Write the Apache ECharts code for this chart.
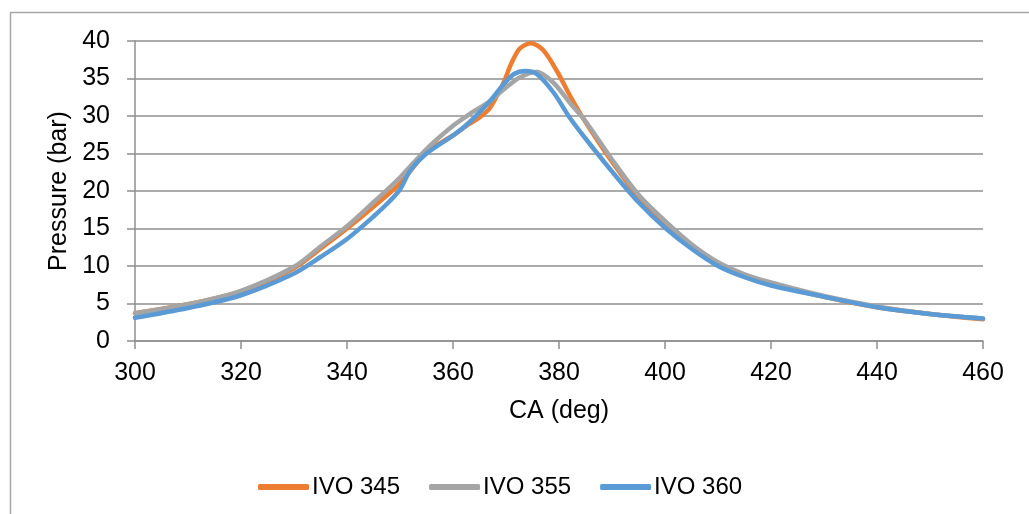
<!DOCTYPE html>
<html>
<head>
<meta charset="utf-8">
<script src="https://cdn.jsdelivr.net/npm/echarts@6/dist/echarts.min.js"></script>
<style>
  html, body { margin: 0; padding: 0; background: #fff; }
  #chart { width: 1029px; height: 514px; }
</style>
</head>
<body>
<div id="chart"></div>
<script>
// Crank angle (deg) and cylinder pressure (bar) for three intake valve opening timings
const ivo345Deg = [300, 310, 320, 330, 335, 340, 345, 350, 355, 360, 363, 365, 367, 369.5, 371, 372.6, 374.7, 377, 379.6, 382, 385, 390, 395, 400, 405, 410, 415, 420, 430, 440, 450, 460];
const ivo345Bar = [3.7, 4.9, 6.6, 9.7, 12.3, 15.0, 17.9, 21.0, 25.2, 27.4, 28.9, 29.8, 31.1, 34.4, 37.0, 39.0, 39.7, 38.8, 36.0, 32.8, 29.2, 23.9, 19.2, 15.5, 12.6, 10.2, 8.7, 7.6, 5.9, 4.5, 3.6, 2.9];

const ivo355Deg = [300, 310, 320, 330, 335, 340, 345, 350, 355, 360, 363, 367, 369.5, 372.5, 375.8, 379, 382, 385, 390, 395, 400, 405, 410, 415, 420, 430, 440, 450, 460];
const ivo355Bar = [3.7, 4.9, 6.7, 9.9, 12.6, 15.3, 18.5, 21.8, 25.6, 28.7, 30.2, 32.0, 33.5, 35.1, 35.9, 34.4, 31.8, 29.3, 24.2, 19.5, 16.0, 12.9, 10.5, 8.9, 7.8, 6.0, 4.6, 3.6, 3.0];

const ivo360Deg = [300, 310, 320, 330, 335, 340, 345, 348, 350, 352, 355, 360, 363, 367, 369.5, 371.5, 373.6, 375.8, 379, 382, 385, 390, 395, 400, 405, 410, 415, 420, 430, 440, 450, 460];
const ivo360Bar = [3.1, 4.4, 6.1, 9.0, 11.2, 13.6, 16.6, 18.6, 20.2, 22.8, 25.0, 27.4, 29.1, 32.0, 34.2, 35.6, 36.0, 35.6, 33.1, 29.8, 27.0, 22.6, 18.5, 15.1, 12.3, 10.0, 8.5, 7.4, 5.9, 4.5, 3.6, 3.0];

const seriesNames = ['IVO 345', 'IVO 355', 'IVO 360'];
const seriesColors = ['#ED7D31', '#A5A5A5', '#5B9BD5'];

const xTicks = { min: 300, max: 460, step: 20 };
const yTicks = { min: 0, max: 40, step: 5 };

function pairs(xs, ys) { return xs.map((x, i) => [x, ys[i]]); }

const font = 'Liberation Sans, Arial, sans-serif';
const axisGrey = '#8f8f8f';
const textSize = 25;

const chart = echarts.init(document.getElementById('chart'), null, { renderer: 'canvas' });

const seriesData = [pairs(ivo345Deg, ivo345Bar), pairs(ivo355Deg, ivo355Bar), pairs(ivo360Deg, ivo360Bar)];

chart.setOption({
  animation: false,
  backgroundColor: '#fff',
  graphic: [{
    type: 'rect',
    shape: { x: 10.5, y: 12.5, width: 1040, height: 520 },
    style: { fill: 'none', stroke: '#a6a6a6', lineWidth: 1.5 },
    silent: true
  }],
  grid: { left: 135, right: 46, top: 41, bottom: 173 },
  legend: {
    data: seriesNames.map(n => ({ name: n, icon: 'roundRect' })),
    left: 253,
    top: 470,
    itemWidth: 51,
    itemHeight: 6,
    itemGap: 29,
    textStyle: { fontFamily: font, fontSize: 24, color: '#000', padding: [0, 0, 0, -2] }
  },
  xAxis: {
    type: 'value',
    min: xTicks.min,
    max: xTicks.max,
    interval: xTicks.step,
    name: 'CA (deg)',
    nameLocation: 'middle',
    nameGap: 58,
    nameTextStyle: { fontFamily: font, fontSize: textSize, color: '#000' },
    axisLine: { show: true, lineStyle: { color: axisGrey, width: 1.5 } },
    axisTick: { show: true, length: 8, lineStyle: { color: axisGrey, width: 1.5 } },
    axisLabel: { fontFamily: font, fontSize: textSize, color: '#000', margin: 20 },
    splitLine: { show: false }
  },
  yAxis: {
    type: 'value',
    min: yTicks.min,
    max: yTicks.max,
    interval: yTicks.step,
    name: 'Pressure (bar)',
    nameLocation: 'middle',
    nameGap: 63,
    nameRotate: 90,
    nameTextStyle: { fontFamily: font, fontSize: textSize, color: '#000' },
    axisLine: { show: true, lineStyle: { color: axisGrey, width: 1.5 } },
    axisTick: { show: true, length: 8, lineStyle: { color: axisGrey, width: 1.5 } },
    axisLabel: { fontFamily: font, fontSize: textSize, color: '#000', margin: 25 },
    splitLine: { show: true, lineStyle: { color: axisGrey, width: 1.5 } }
  },
  series: seriesNames.map((name, i) => ({
    name: name,
    type: 'line',
    data: seriesData[i],
    smooth: 0.3,
    showSymbol: false,
    symbol: 'none',
    color: seriesColors[i],
    lineStyle: { color: seriesColors[i], width: 4.5, cap: 'round', join: 'round' },
    z: 2 + i
  }))
});
</script>
</body>
</html>
